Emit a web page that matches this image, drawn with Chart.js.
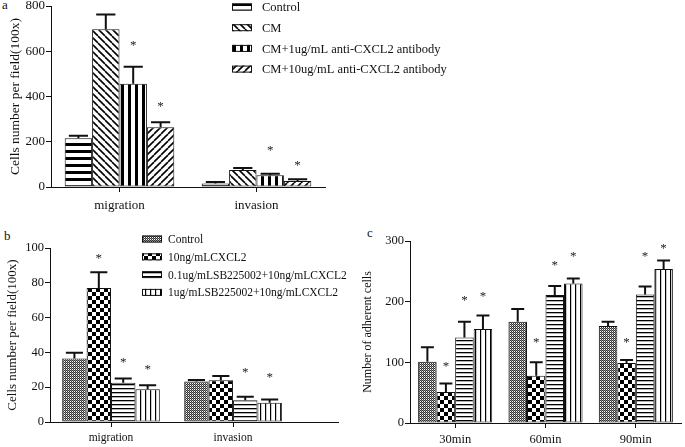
<!DOCTYPE html>
<html><head><meta charset="utf-8">
<script src="https://cdn.jsdelivr.net/npm/chart.js@4.4.0/dist/chart.umd.min.js"></script>
<style>
body{margin:0;background:#fff;width:685px;height:447px;overflow:hidden;position:relative;font-family:"Liberation Serif",serif;}
canvas{position:absolute;left:0;}
.lab{position:absolute;font-size:13px;color:#111;line-height:13px;}
</style></head><body>
<div class="lab" style="left:2px;top:-2px">a</div>
<div class="lab" style="left:4px;top:229px">b</div>
<div class="lab" style="left:367px;top:226px">c</div>
<canvas id="ca" width="685" height="467" style="top:-20px"></canvas>
<canvas id="cb" width="685" height="447" style="top:0"></canvas>
<canvas id="cc" width="685" height="447" style="top:0"></canvas>
<script>
// ---------- DATA ----------
const catsA = ['migration', 'invasion'];
const seriesA = ['Control', 'CM', 'CM+1ug/mL anti-CXCL2 antibody', 'CM+10ug/mL anti-CXCL2 antibody'];
const valsA = [[215, 16], [697, 75], [456, 52], [264, 27]];
const errA = [[12, 6], [65, 9], [75, 7], [22, 7]];
const starA = [[null, null], [null, null], [637, 173], [367, 106]];
const ticksA = [0, 200, 400, 600, 800];

const catsB = ['migration', 'invasion'];
const seriesB = ['Control', '10ng/mLCXCL2', '0.1ug/mLSB225002+10ng/mLCXCL2', '1ug/mLSB225002+10ng/mLCXCL2'];
const valsB = [[36.5, 23.3], [77, 24], [22.5, 12.5], [18.8, 11]];
const errB = [[3.3, 0.8], [9, 2.5], [2.5, 2], [2.3, 2]];
const starB = [[null, null], [95.6, null], [35.6, 29.9], [31.8, 27]];
const ticksB = [0, 20, 40, 60, 80, 100];

const catsC = ['30min', '60min', '90min'];
const seriesC = seriesB;
const valsC = [[101, 167, 160], [51, 78, 99], [141, 211, 212], [155, 230, 254]];
const errC = [[24, 21, 7], [14, 22, 5], [26, 15, 13], [22, 8, 14]];
const starC = [[null, null, null], [98, 136, 136], [206, 264, 278], [213, 278, 291]];
const ticksC = [0, 100, 200, 300];

// ---------- PATTERNS ----------
function pat(kind) {
  const c = document.createElement('canvas');
  const g = c.getContext('2d');
  let s = 7;
  if (kind === 'fine') s = 2;
  if (kind === 'checker') s = 8;
  if (kind === 'hline') s = 4;
  if (kind === 'vline') s = 5;
  c.width = s; c.height = s;
  g.fillStyle = '#fff'; g.fillRect(0, 0, s, s);
  g.fillStyle = '#000'; g.strokeStyle = '#000';
  if (kind === 'hstripe') g.fillRect(0, 2, s, 3);
  if (kind === 'vstripe') g.fillRect(2, 0, 3, s);
  if (kind === 'diagB' || kind === 'diagF') {
    g.lineWidth = 1.6;
    for (const o of [-s, 0, s]) {
      g.beginPath();
      if (kind === 'diagB') { g.moveTo(o, 0); g.lineTo(o + s, s); }
      else { g.moveTo(o, s); g.lineTo(o + s, 0); }
      g.stroke();
    }
  }
  if (kind === 'fine') { g.fillStyle = '#333'; g.fillRect(0, 0, 1, 1); g.fillRect(1, 1, 1, 1); g.fillStyle = '#888'; g.fillRect(1, 0, 1, 1); }
  if (kind === 'checker') { g.fillRect(0, 0, 4, 4); g.fillRect(4, 4, 4, 4); }
  if (kind === 'hline') g.fillRect(0, 0, s, 1.3);
  if (kind === 'vline') g.fillRect(0, 0, 1.2, s);
  return g.createPattern(c, 'repeat');
}
const patsA = ['hstripe', 'diagB', 'vstripe', 'diagF'].map(pat);
const patsB = ['fine', 'checker', 'hline', 'vline'].map(pat);

// ---------- PLUGINS ----------
const errPlugin = {
  id: 'errs',
  afterDatasetsDraw(chart, args, opts) {
    const ctx = chart.ctx, y = chart.scales.y;
    ctx.save();
    chart.data.datasets.forEach((ds, i) => {
      const meta = chart.getDatasetMeta(i);
      meta.data.forEach((bar, j) => {
        const v = ds.vals[j], e = ds.errs[j];
        const yt = y.getPixelForValue(v + e);
        const cw = bar.width * 0.7;
        ctx.strokeStyle = '#111'; ctx.lineWidth = 2;
        ctx.beginPath();
        ctx.moveTo(bar.x, bar.y); ctx.lineTo(bar.x, yt);
        ctx.moveTo(bar.x - cw / 2, yt); ctx.lineTo(bar.x + cw / 2, yt);
        ctx.stroke();
        const st = ds.stars[j];
        if (st != null) {
          ctx.fillStyle = '#222';
          ctx.font = opts.starFont;
          ctx.textAlign = 'center'; ctx.textBaseline = 'alphabetic';
          ctx.fillText('*', bar.x, y.getPixelForValue(st) + 6);
        }
      });
    });
    ctx.restore();
  }
};
const legPlugin = {
  id: 'leg',
  afterDraw(chart, args, o) {
    if (!o.show) return;
    const ctx = chart.ctx;
    ctx.save();
    chart.data.datasets.forEach((ds, i) => {
      const cy = o.y + i * o.dy;
      ctx.fillStyle = ds.backgroundColor;
      ctx.fillRect(o.x, cy - o.h / 2, o.w, o.h);
      ctx.strokeStyle = '#111'; ctx.lineWidth = 1;
      ctx.strokeRect(o.x + 0.5, cy - o.h / 2 + 0.5, o.w - 1, o.h - 1);
      ctx.fillStyle = '#111';
      ctx.font = o.font;
      ctx.textAlign = 'left'; ctx.textBaseline = 'middle';
      ctx.fillText(ds.label, o.tx, cy + 1);
    });
    ctx.restore();
  }
};

function build(id, cats, series, vals, errs, stars, pats, ticks, p) {
  const lin = p.xmax !== undefined;
  const datasets = series.map((s, i) => ({
    label: s,
    data: lin ? vals[i].map((v, j) => ({ x: j, y: v })) : vals[i],
    vals: vals[i], errs: errs[i], stars: stars[i],
    backgroundColor: pats[i], borderColor: '#111', borderWidth: 1, borderSkipped: false,
    categoryPercentage: p.cp, barPercentage: 1
  }));
  const xs = {
    grid: { drawOnChartArea: false, offset: false, tickLength: 5, color: '#111', lineWidth: 1 },
    border: { color: '#111', width: 1 },
    ticks: { color: '#111', font: { family: 'Liberation Serif', size: p.xf }, padding: p.xpad, maxRotation: 0, autoSkip: false },
    afterFit(s) { s.height = p.xh; }
  };
  if (lin) {
    xs.type = 'linear'; xs.min = -0.5; xs.max = p.xmax; xs.offset = false;
    xs.beginAtZero = false; xs.grace = 0; xs.bounds = 'ticks';
    xs.afterBuildTicks = (s) => { s.ticks = cats.map((c, i) => ({ value: i })); };
    xs.ticks.callback = (v) => cats[v];
  }
  return new Chart(document.getElementById(id), {
    type: 'bar',
    data: lin ? { datasets } : { labels: cats, datasets },
    plugins: [errPlugin, legPlugin],
    options: {
      responsive: false, animation: false,
      layout: { padding: p.pad },
      plugins: { legend: { display: false }, tooltip: { enabled: false },
        errs: { starFont: '13px "Liberation Serif"' },
        leg: p.leg },
      scales: {
        x: xs,
        y: {
          min: ticks[0], max: ticks[ticks.length - 1],
          afterBuildTicks(s) { s.ticks = ticks.map(v => ({ value: v })); },
          grid: { drawOnChartArea: false, tickLength: 5, color: '#111', lineWidth: 1 },
          border: { color: '#111', width: 1 },
          ticks: { color: '#111', font: { family: 'Liberation Serif', size: p.yf }, padding: 1 },
          title: { display: true, text: p.ytitle, color: '#111',
            font: { family: 'Liberation Serif', size: p.tf }, padding: { top: p.tpad, bottom: 0 } },
          afterFit(s) { s.width = p.yw; }
        }
      }
    }
  });
}

build('ca', catsA, seriesA, valsA, errA, starA, patsA, ticksA, {
  cp: 0.8, pad: { left: 0, top: 26, right: 360, bottom: 232 }, xh: 28, xf: 13, xpad: 6, yf: 13, yw: 51,
  ytitle: 'Cells number per field(100x)', tf: 13.5, tpad: 7,
  leg: { show: true, x: 232, y: 27, dy: 20.7, w: 20, h: 7, tx: 262, font: '12.5px "Liberation Serif"' }
});
build('cb', catsB, seriesB, valsB, errB, starB, patsB, ticksB, {
  cp: 0.8, xmax: 1.86, pad: { left: 0, top: 248, right: 347, bottom: 0 }, xh: 25, xf: 11.5, xpad: 4, yf: 12.5, yw: 50,
  ytitle: 'Cells number per field(100x)', tf: 13, tpad: 5,
  leg: { show: true, x: 142, y: 239, dy: 17.8, w: 20, h: 7, tx: 168, font: '11.5px "Liberation Serif"' }
});
build('cc', catsC, seriesC, valsC, errC, starC, patsB, ticksC, {
  cp: 0.82, pad: { left: 355, top: 241, right: 4, bottom: 0 }, xh: 24, xf: 12.5, xpad: 4, yf: 12.5, yw: 55,
  ytitle: 'Number of adherent cells', tf: 12, tpad: 6,
  leg: { show: false }
});
</script>
</body></html>
